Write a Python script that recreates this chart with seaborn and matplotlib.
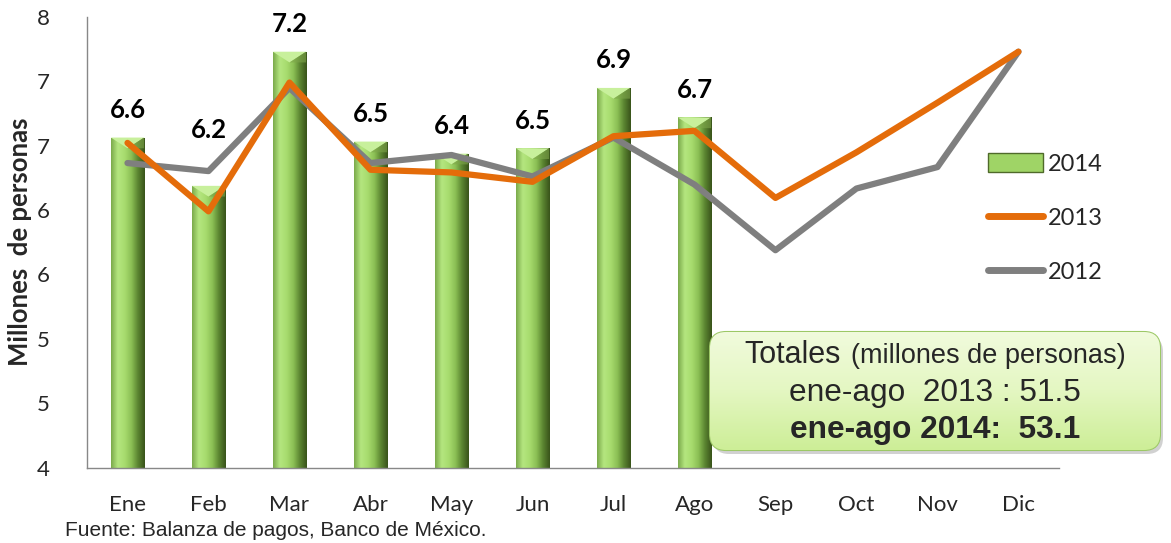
import numpy as np
import pandas as pd
import matplotlib
matplotlib.use("Agg")
import matplotlib.pyplot as plt
import seaborn as sns
from matplotlib.colors import LinearSegmentedColormap
from matplotlib.patches import FancyBboxPatch, Patch, Polygon
from matplotlib.lines import Line2D

# datos (millones de personas)
meses = ["Ene", "Feb", "Mar", "Abr", "May", "Jun", "Jul", "Ago", "Sep", "Oct", "Nov", "Dic"]
valores_2014 = [6.56, 6.20, 7.20, 6.53, 6.44, 6.48, 6.93, 6.71]
valores_2013 = [6.52, 6.01, 6.97, 6.32, 6.30, 6.23, 6.57, 6.61, 6.11, 6.45, 6.82, 7.20]
valores_2012 = [6.37, 6.31, 6.93, 6.37, 6.43, 6.27, 6.56, 6.21, 5.72, 6.18, 6.34, 7.20]
etiquetas_y = ["4", "5", "5", "6", "6", "7", "7", "8"]
total_2013 = 51.5
total_2014 = 53.1

# colores
verde = "#9fd466"
naranja = "#e46c0a"
gris = "#7f7f7f"
eje = "#888888"

sns.set_style("white")
plt.rcParams["font.family"] = ["Lato", "DejaVu Sans"]

fig = plt.figure(figsize=(11.71, 5.43), dpi=100)
ax = fig.add_axes([0.0743, 0.139, 0.830, 0.830])

y_min, y_max = 4.10, 7.46

df14 = pd.DataFrame({"mes": meses[:len(valores_2014)], "valor": valores_2014})
sns.barplot(data=df14, x="mes", y="valor", order=meses, color=verde,
            saturation=1, width=0.41, ax=ax, zorder=2)

# relleno con degradado tipo bisel
cmap_barra = LinearSegmentedColormap.from_list(
    "barra", ["#7aa84a", "#b4e67f", "#a8dc6f", "#8cc055", "#5a8430", "#38521a"])
grad = np.linspace(0, 1, 256).reshape(1, -1)
bisel = 0.08
for bar in list(ax.patches):
    x0, w, h = bar.get_x(), bar.get_width(), bar.get_height()
    bar.set_edgecolor("#4f6a2a")
    bar.set_linewidth(0.6)
    im = ax.imshow(grad, cmap=cmap_barra, aspect="auto", interpolation="bicubic",
                   extent=(x0, x0 + w, y_min, h), zorder=2.1)
    im.set_clip_path(bar)
    tri = Polygon([(x0, h), (x0 + w, h), (x0 + w / 2, h - bisel)], closed=True,
                  facecolor="#c8f09c", edgecolor="none", zorder=2.2)
    ax.add_patch(tri)
    tri_d = Polygon([(x0 + w, h), (x0 + w / 2, h - bisel), (x0 + w, h - bisel)], closed=True,
                    facecolor="#7da54a", edgecolor="none", alpha=0.6, zorder=2.2)
    ax.add_patch(tri_d)

# líneas 2013 y 2012
sns.pointplot(x=meses, y=valores_2013, order=meses, color=naranja, marker="",
              linewidth=4.5, ax=ax, zorder=5)
sns.pointplot(x=meses, y=valores_2012, order=meses, color=gris, marker="",
              linewidth=4.5, ax=ax, zorder=4)
for ln in ax.lines:
    ln.set_solid_joinstyle("round")
    ln.set_solid_capstyle("round")

# etiquetas de datos
desplaza = {"Feb": 40}
for mes, v, bar in zip(meses, valores_2014, ax.patches):
    ax.annotate(f"{v:.1f}", xy=(bar.get_x() + bar.get_width() / 2, v),
                xytext=(0, desplaza.get(mes, 20)), textcoords="offset points",
                ha="center", va="center", fontsize=18.5, fontweight="bold", color="black")

ax.set_xlim(-0.5, len(meses) - 0.5)
ax.set_ylim(y_min, y_max)
ax.set_yticks(np.linspace(y_min, y_max, len(etiquetas_y)))
ax.set_yticklabels(etiquetas_y)
ax.set_xticks(np.arange(len(meses)))
ax.set_xticklabels(meses)
ax.set_xticks(np.arange(len(meses) + 1) - 0.5, minor=True)
ax.tick_params(axis="x", which="major", length=0, pad=20, labelsize=16)
ax.tick_params(axis="x", which="minor", length=5, color=eje, width=1, direction="out")
ax.tick_params(axis="y", length=5, color=eje, width=1, direction="out", pad=22, labelsize=16)
ax.set_xlabel("")
ax.set_ylabel("Millones  de personas", fontweight="bold", fontsize=18.5)
ax.yaxis.set_label_coords(-0.057, 0.5)
sns.despine(ax=ax)
for s in ["left", "bottom"]:
    ax.spines[s].set_color(eje)
    ax.spines[s].set_linewidth(1)

# leyenda
handles = [Patch(facecolor=verde, edgecolor="#4f6a2a"),
           Line2D([], [], color=naranja, lw=5, solid_capstyle="round"),
           Line2D([], [], color=gris, lw=5, solid_capstyle="round")]
ax.legend(handles, ["2014", "2013", "2012"], loc="upper left",
          bbox_to_anchor=(0.826, 0.758), bbox_transform=fig.transFigure,
          frameon=False, fontsize=17, handlelength=2.3, handleheight=0.9,
          labelspacing=1.37, handletextpad=0.2)

# recuadro de totales
bx = fig.add_axes([700 / 1171, 1 - 460 / 543, 470 / 1171, 135 / 543])
bx.set_xlim(-10, 460)
bx.set_ylim(-10, 125)
bx.axis("off")
sombra = FancyBboxPatch((3, -4), 450, 118, boxstyle="round,pad=0,rounding_size=16",
                        facecolor="#000000", alpha=0.18, edgecolor="none")
bx.add_patch(sombra)
caja = FancyBboxPatch((0, 0), 450, 118, boxstyle="round,pad=0,rounding_size=16",
                      facecolor="#e2f5bd", edgecolor="#9cc866", linewidth=1.5, zorder=2)
bx.add_patch(caja)
cmap_caja = LinearSegmentedColormap.from_list("caja", ["#cdee97", "#e4f7c2", "#f1fbdd"])
imc = bx.imshow(np.linspace(0, 1, 128).reshape(-1, 1), cmap=cmap_caja, aspect="auto",
                origin="lower", extent=(0, 450, 0, 118), zorder=2.1)
imc.set_clip_path(caja)
arial = ["Liberation Sans", "DejaVu Sans"]
bx.text(131, 95, "Totales", ha="right", va="center", fontsize=22, family=arial, zorder=3)
bx.text(141, 94, "(millones de personas)", ha="left", va="center", fontsize=19.5,
        family=arial, zorder=3)
bx.text(225, 57, f"ene-ago  2013 : {total_2013}", ha="center", va="center",
        fontsize=22.8, family=arial, zorder=3)
bx.text(225, 20, f"ene-ago 2014:  {total_2014}", ha="center", va="center",
        fontsize=22.8, fontweight="bold", family=arial, zorder=3)

fig.text(65 / 1171, 1 - 530 / 543, "Fuente: Balanza de pagos, Banco de México.",
         ha="left", va="center", fontsize=15, family=arial)

fig.savefig("out.png", dpi=100)
